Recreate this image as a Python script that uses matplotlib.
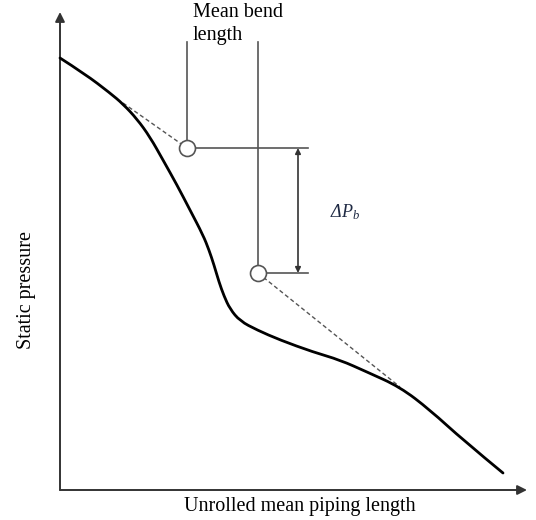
import matplotlib

matplotlib.use("Agg")
import matplotlib.pyplot as plt
from matplotlib.path import Path
from matplotlib.patches import PathPatch

plt.rcParams["font.family"] = ["Liberation Serif", "DejaVu Serif"]
plt.rcParams["mathtext.fontset"] = "custom"
plt.rcParams["mathtext.it"] = "Liberation Serif:italic"
plt.rcParams["mathtext.rm"] = "Liberation Serif"

# static pressure curve along the unrolled length (schematic units)
curve_x = [0, 25, 50, 63, 77, 90, 103, 117, 130, 143, 149, 154, 159, 164,
           170, 180, 197, 220, 253, 280, 307, 340, 370, 403, 443]
curve_y = [432, 416, 397, 386, 371, 353, 330, 305, 280, 255, 240, 225, 208,
           194, 181, 169, 160, 150, 138, 130, 118, 103, 80, 50, 17]

# extrapolated straight runs and the two bend-length points
tangent_in = ([63, 127], [387, 342])
tangent_out = ([198, 340], [217, 103])
bend_x = [127, 198]
bend_y = [342, 217]

line_top = 448
bracket_x = 238
bracket_end = 248

fig = plt.figure(figsize=(5.36, 5.20), dpi=100)
ax = fig.add_axes([0, 0, 1, 1])
ax.set_xlim(-60, 476)
ax.set_ylim(-30, 490)
ax.set_axis_off()

gray = "#555555"

# axes with arrows
ax.annotate("", xy=(467, 0), xytext=(0, 0),
            arrowprops=dict(arrowstyle="-|>", color="#333333", lw=1.4,
                            mutation_scale=14, shrinkA=0, shrinkB=0))
ax.annotate("", xy=(0, 478), xytext=(0, 0),
            arrowprops=dict(arrowstyle="-|>", color="#333333", lw=1.4,
                            mutation_scale=14, shrinkA=0, shrinkB=0))

# smooth curve: read points act as quadratic Bezier controls
pts = list(zip(curve_x, curve_y))
verts = [pts[0]]
codes = [Path.MOVETO]
for i in range(1, len(pts) - 1):
    mid = ((pts[i][0] + pts[i + 1][0]) / 2, (pts[i][1] + pts[i + 1][1]) / 2)
    if i == len(pts) - 2:
        mid = pts[i + 1]
    verts += [pts[i], mid]
    codes += [Path.CURVE3, Path.CURVE3]
ax.add_patch(PathPatch(Path(verts, codes), fill=False, color="black", lw=2,
                       capstyle="round", zorder=3))

ax.plot(*tangent_in, color=gray, lw=1, ls=(0, (3, 2)), zorder=2)
ax.plot(*tangent_out, color=gray, lw=1, ls=(0, (3, 2)), zorder=2)

for bx, by in zip(bend_x, bend_y):
    ax.plot([bx, bx], [by, line_top], color=gray, lw=1.2, zorder=2)
    ax.plot([bx, bracket_end], [by, by], color=gray, lw=1.2, zorder=2)

ax.plot(bend_x, bend_y, "o", ms=11.5, mfc="white", mec=gray, mew=1.2, zorder=4)

ax.annotate("", xy=(bracket_x, bend_y[0]), xytext=(bracket_x, bend_y[1]),
            arrowprops=dict(arrowstyle="<|-|>", color="#333333", lw=1.2,
                            mutation_scale=8, shrinkA=0, shrinkB=0))
ax.text(285, 278, r"ΔP$_b$", fontsize=13, style="italic", color="#1f2a44",
        ha="center", va="center")

ax.text(133, 487, "Mean bend\nlength", fontsize=14.5, ha="left", va="top",
        linespacing=1.3)
ax.text(240, -17, "Unrolled mean piping length", fontsize=14.5,
        ha="center", va="center")
ax.text(-34, 200, "Static pressure", fontsize=14.5, rotation=90,
        ha="center", va="center")

fig.savefig("out.png", dpi=100)
